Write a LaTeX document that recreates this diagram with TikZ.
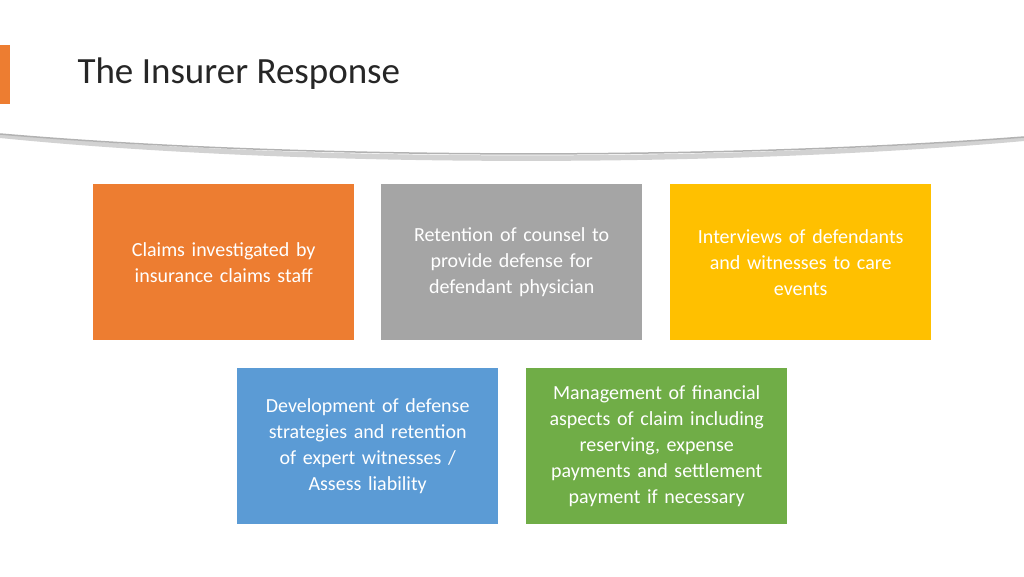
\documentclass[tikz,border=0pt]{standalone}
\usepackage{fontspec}
\setmainfont{Carlito}
\begin{document}
\begin{tikzpicture}[x=1pt,y=-1pt,
  card/.style={anchor=north west,minimum width=261pt,minimum height=156pt,inner sep=4pt,text=white,font=\fontsize{20}{26}\selectfont,align=center,text width=245pt}]
\useasboundingbox (0,0) rectangle (1024,576);
\fill[white] (0,0) rectangle (1024,576);
\fill[orange!80!red!90!yellow, fill={rgb,255:red,237;green,125;blue,49}] (0,45) rectangle (10,104);
\node[anchor=west,font=\fontsize{37}{40}\selectfont,text={rgb,255:red,38;green,38;blue,38}] (title) at (74,74) {The Insurer Response};
\fill[gray!35] (0,134) .. controls (300,162) and (724,162) .. (1024,137) -- (1024,141) .. controls (724,168) and (300,168) .. (0,138) -- cycle;
\draw[gray!60,line width=1.5pt] (0,134) .. controls (300,160) and (724,160) .. (1024,137);
\definecolor{cor}{RGB}{237,125,49}
\definecolor{cgr}{RGB}{165,165,165}
\definecolor{cye}{RGB}{255,192,0}
\definecolor{cbl}{RGB}{91,155,213}
\definecolor{cgn}{RGB}{112,173,71}
\node[card,fill=cor] (a) at (93,184) {Claims investigated by\\insurance claims staff};
\node[card,fill=cgr] (b) at (381,184) {Retention of counsel to\\provide defense for\\defendant physician};
\node[card,fill=cye] (c) at (670,184) {Interviews of defendants\\and witnesses to care\\events};
\node[card,fill=cbl] (d) at (237,368) {Development of defense\\strategies and retention\\of expert witnesses /\\Assess liability};
\node[card,fill=cgn] (e) at (526,368) {Management of financial\\aspects of claim including\\reserving, expense\\payments and settlement\\payment if necessary};
\end{tikzpicture}
\end{document}
